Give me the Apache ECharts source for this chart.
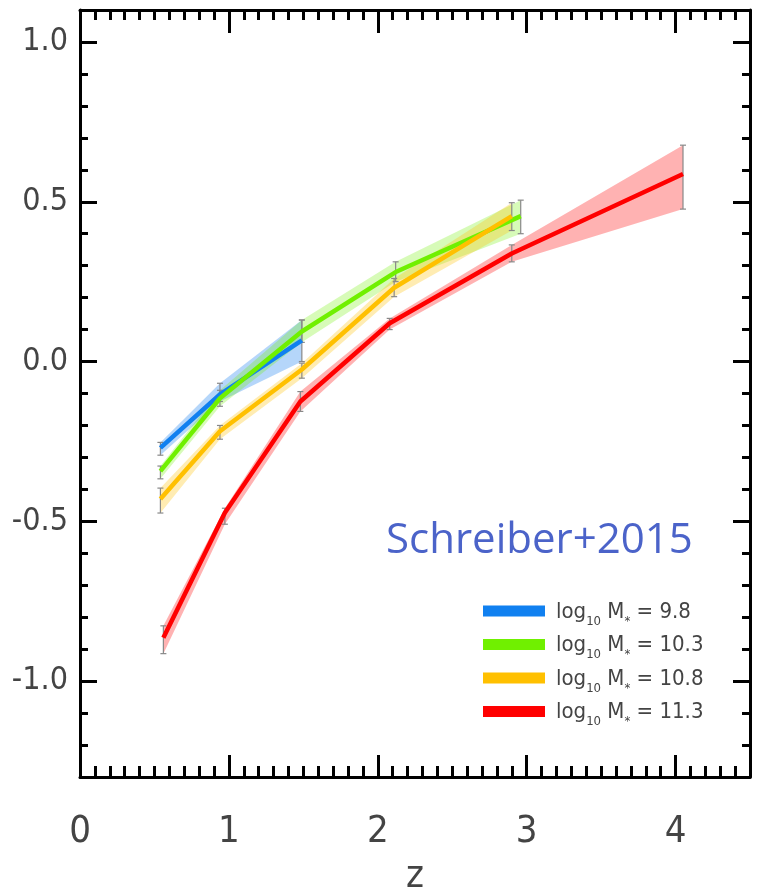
<!DOCTYPE html>
<html>
<head>
<meta charset="utf-8">
<script src="https://cdn.jsdelivr.net/npm/echarts@6/dist/echarts.min.js"></script>
<style>
  html, body { margin: 0; padding: 0; background: #fff; }
  #chart { width: 757px; height: 887px; }
</style>
</head>
<body>
<div id="chart"></div>
<script>
// ---- data ----
const massLabels = ['9.8', '10.3', '10.8', '11.3'];

const blueZ  = [0.54, 0.94, 1.49];
const blueY  = [-0.27, -0.103, 0.066];
const blueLo = [-0.293, -0.125, 0.0];
const blueHi = [-0.253, -0.068, 0.13];

const greenZ  = [0.54, 0.94, 1.49, 2.12, 2.96];
const greenY  = [-0.343, -0.115, 0.094, 0.28, 0.455];
const greenLo = [-0.367, -0.14, 0.06, 0.25, 0.40];
const greenHi = [-0.327, -0.09, 0.13, 0.312, 0.505];

const orangeZ  = [0.54, 0.94, 1.49, 2.11, 2.90];
const orangeY  = [-0.43, -0.218, -0.025, 0.231, 0.455];
const orangeLo = [-0.474, -0.243, -0.052, 0.203, 0.41];
const orangeHi = [-0.396, -0.20, -0.005, 0.26, 0.497];

const redZ  = [0.56, 0.973, 1.48, 2.08, 2.90, 4.05];
const redY  = [-0.864, -0.473, -0.125, 0.12, 0.338, 0.587];
const redLo = [-0.914, -0.509, -0.156, 0.10, 0.312, 0.477];
const redHi = [-0.827, -0.459, -0.094, 0.135, 0.365, 0.677];

const xTickLabels = [0, 1, 2, 3, 4];
const yTickLabels = [-1.0, -0.5, 0.0, 0.5, 1.0];

// ---- styling ----
const FONT = "'DejaVu Sans Condensed', 'DejaVu Sans', sans-serif";
const LABEL_COLOR = '#444';
const lineColors = ['#1080f0', '#70f000', '#ffc000', '#ff0000'];
const bandColors = ['rgba(30,130,240,0.33)', 'rgba(112,240,0,0.28)', 'rgba(255,192,0,0.30)', 'rgba(255,0,0,0.30)'];

const groups = [
  { z: blueZ,   y: blueY,   lo: blueLo,   hi: blueHi },
  { z: greenZ,  y: greenY,  lo: greenLo,  hi: greenHi },
  { z: orangeZ, y: orangeY, lo: orangeLo, hi: orangeHi },
  { z: redZ,    y: redY,    lo: redLo,    hi: redHi }
];
const names = massLabels.map(m => 'log10 M* = ' + m);

const xMin = 0, xMax = 4.5, yMin = -1.3, yMax = 1.1;

function bandSeries(g, i) {
  const data = g.z.map((z, k) => [z, g.lo[k], g.hi[k]]);
  return {
    type: 'custom', name: 'band' + i, z: 1, silent: true, clip: true,
    data: data,
    encode: { x: 0, y: [1, 2] },
    renderItem: function (params, api) {
      if (params.dataIndex !== 0) return null;
      const pts = [];
      for (let k = 0; k < data.length; k++) pts.push(api.coord([data[k][0], data[k][2]]));
      for (let k = data.length - 1; k >= 0; k--) pts.push(api.coord([data[k][0], data[k][1]]));
      return { type: 'polygon', shape: { points: pts }, style: { fill: bandColors[i] } };
    }
  };
}

function errSeries(g, i) {
  const data = g.z.map((z, k) => [z, g.lo[k], g.hi[k]]);
  return {
    type: 'custom', name: 'err' + i, z: 2, silent: true, clip: true,
    data: data,
    encode: { x: 0, y: [1, 2] },
    renderItem: function (params, api) {
      const lo = api.coord([api.value(0), api.value(1)]);
      const hi = api.coord([api.value(0), api.value(2)]);
      const w = 3;
      const st = { stroke: '#888', lineWidth: 1.2 };
      return {
        type: 'group', children: [
          { type: 'line', shape: { x1: lo[0], y1: lo[1], x2: hi[0], y2: hi[1] }, style: st },
          { type: 'line', shape: { x1: lo[0] - w, y1: lo[1], x2: lo[0] + w, y2: lo[1] }, style: st },
          { type: 'line', shape: { x1: hi[0] - w, y1: hi[1], x2: hi[0] + w, y2: hi[1] }, style: st }
        ]
      };
    }
  };
}

function lineSeries(g, i) {
  return {
    type: 'line', name: names[i], z: 3 + i, silent: true,
    data: g.z.map((z, k) => [z, g.y[k]]),
    showSymbol: false, symbol: 'none',
    lineStyle: { color: lineColors[i], width: 4.5 },
    itemStyle: { color: lineColors[i] }
  };
}

const series = [];
groups.forEach((g, i) => series.push(bandSeries(g, i)));
groups.forEach((g, i) => series.push(errSeries(g, i)));
groups.forEach((g, i) => series.push(lineSeries(g, i)));

const axisLineStyle = { show: true, onZero: false, lineStyle: { color: '#000', width: 3 } };
const noLine = { show: false, onZero: false };
const tickLine = { color: '#000', width: 3 };

function xAx(pos, major, withLabels) {
  const a = {
    type: 'value', position: pos, min: xMin, max: xMax,
    interval: major ? 1 : 0.1,
    axisLine: major ? axisLineStyle : noLine,
    axisTick: { show: true, inside: true, length: major ? (pos === 'top' ? 23 : 22) : (pos === 'top' ? 10 : 11), lineStyle: tickLine },
    axisLabel: { show: false },
    splitLine: { show: false }
  };
  if (major) a.axisTick.customValues = xTickLabels;
  if (withLabels) {
    a.axisLabel = { show: true, customValues: xTickLabels, margin: 36, color: LABEL_COLOR, fontSize: 38, fontFamily: FONT };
    a.name = 'z';
    a.nameLocation = 'middle';
    a.nameGap = 81;
    a.nameTextStyle = { color: LABEL_COLOR, fontSize: 38, fontFamily: FONT };
  }
  return a;
}
function yAx(pos, major, withLabels) {
  const a = {
    type: 'value', position: pos, min: yMin, max: yMax,
    interval: major ? 0.5 : 0.1,
    axisLine: major ? axisLineStyle : noLine,
    axisTick: { show: true, inside: true, length: major ? 17 : 8, lineStyle: tickLine },
    axisLabel: { show: false },
    splitLine: { show: false }
  };
  if (major) a.axisTick.customValues = yTickLabels;
  if (withLabels) {
    a.axisLabel = { show: true, customValues: yTickLabels, margin: 12, color: LABEL_COLOR, fontSize: 32, fontFamily: FONT,
      formatter: v => v.toFixed(1) };
  }
  return a;
}

const option = {
  animation: false,
  backgroundColor: '#fff',
  grid: { left: 80, right: 7, top: 10, bottom: 110, containLabel: false, outerBoundsMode: 'none' },
  xAxis: [xAx('bottom', true, true), xAx('bottom', false, false), xAx('top', true, false), xAx('top', false, false)],
  yAxis: [yAx('left', true, true), yAx('left', false, false), yAx('right', true, false), yAx('right', false, false)],
  legend: {
    orient: 'vertical', left: 478, top: 596,
    itemWidth: 62, itemHeight: 11, itemGap: 6.5, icon: 'rect',
    data: names,
    selectedMode: false,
    formatter: function (name) {
      const m = name.split('= ')[1];
      return '{a|log}{s|10}{a| M}{s|*}{a| = ' + m + '}';
    },
    textStyle: {
      color: LABEL_COLOR, fontSize: 22, fontFamily: FONT, padding: [0, 0, 0, 6],
      rich: {
        a: { color: LABEL_COLOR, fontSize: 22, fontFamily: FONT, lineHeight: 24, verticalAlign: 'bottom' },
        s: { color: LABEL_COLOR, fontSize: 13, fontFamily: FONT, lineHeight: 13, verticalAlign: 'bottom', padding: [0, 0, -5, 0] }
      }
    }
  },
  graphic: [{
    type: 'text', left: 386, top: 520, z: 100,
    style: { text: 'Schreiber+2015', fill: '#4b63c9', font: "42px 'Open Sans', 'Lato', sans-serif" }
  }],
  series: series
};

const chart = echarts.init(document.getElementById('chart'), null, { renderer: 'canvas' });
chart.setOption(option);
</script>
</body>
</html>
